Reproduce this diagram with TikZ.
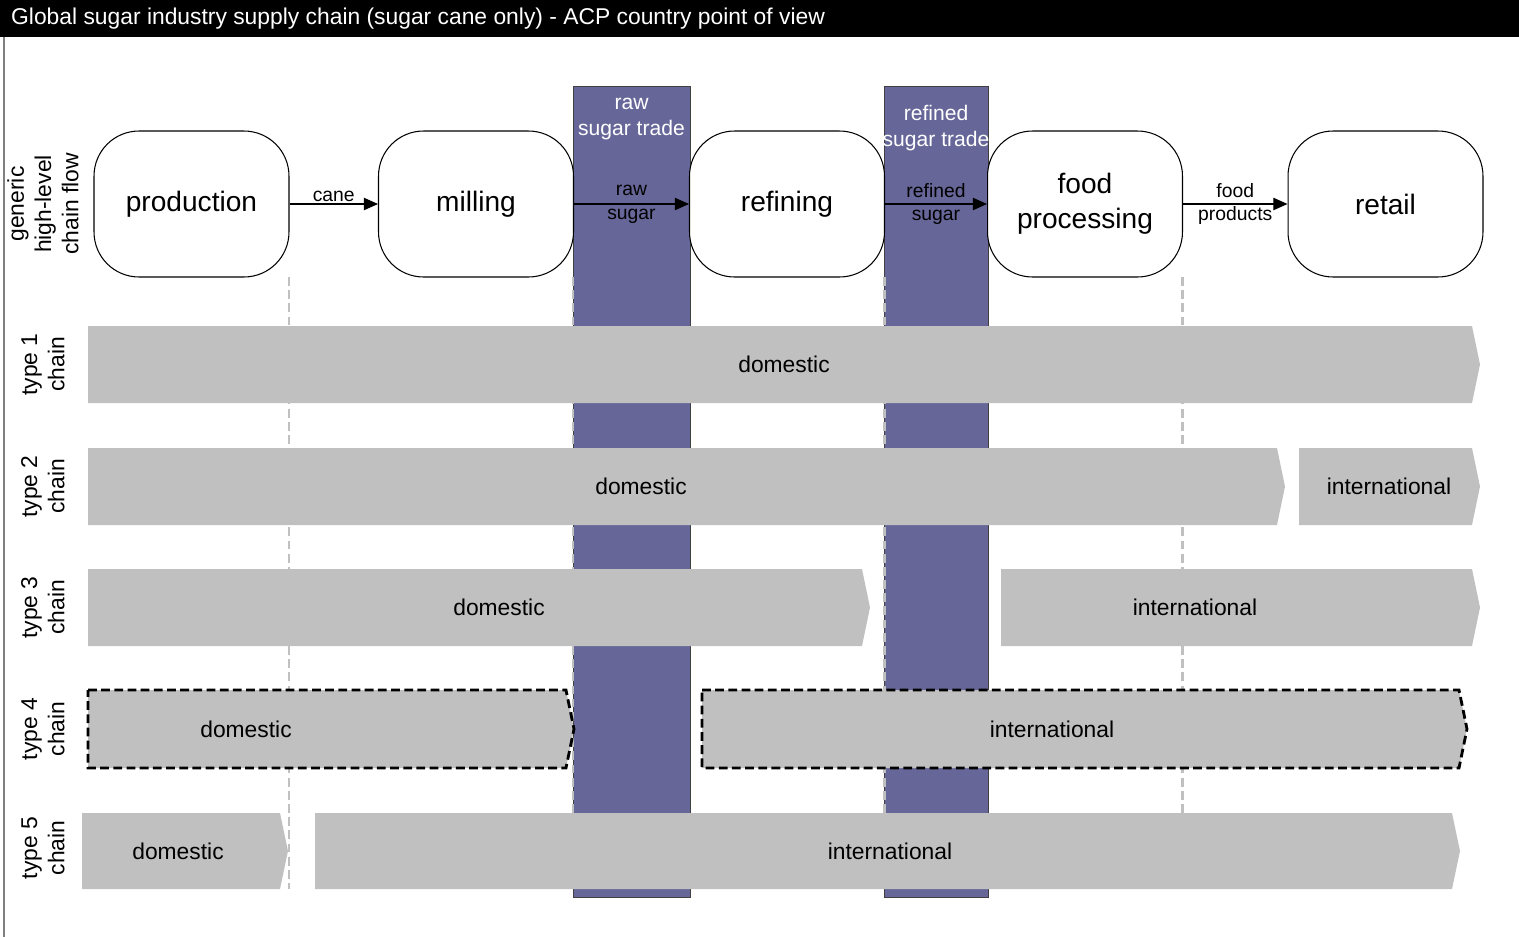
\documentclass[tikz,border=0pt]{standalone}
\usepackage{fontspec}
\setmainfont{Liberation Sans}
\usetikzlibrary{arrows.meta}

\definecolor{tradeblue}{RGB}{102,102,153}
\definecolor{bargray}{RGB}{192,192,192}

\tikzset{
  stage/.style={draw=black, fill=white, rounded corners=0.9cm, minimum width=3.9cm,
    minimum height=2.92cm, align=center, line width=0.6pt, font=\fontsize{16}{19.8}\selectfont},
  flow/.style={-{Triangle[length=8pt,width=7pt]}, line width=0.6pt},
  flowlabel/.style={align=center, inner sep=1pt, font=\fontsize{11}{13.6}\selectfont},
  trade/.style={fill=tradeblue, draw=black!75, line width=0.5pt},
  tradelabel/.style={text=white, align=center, font=\fontsize{12}{14.7}\selectfont},
  guide/.style={draw=bargray, line width=1.7pt, dash pattern=on 5pt off 2.5pt},
  chainbar/.style={fill=bargray},
  chainbox/.style={fill=bargray, draw=black, line width=1.6pt, dash pattern=on 5pt off 2.5pt},
  bartext/.style={font=\fontsize{13}{15}\selectfont},
  rowlabel/.style={rotate=90, align=center, font=\fontsize{13}{15.5}\selectfont},
}

\begin{document}
\begin{tikzpicture}[x=0.02cm, y=-0.02cm]
\useasboundingbox (0,0) rectangle (1519,937);

% title bar and frame
\fill[black] (0,0) rectangle (1519,37);
\node[anchor=west, text=white, font=\fontsize{13}{15}\selectfont] (title) at (5,18.5)
  {Global sugar industry supply chain (sugar cane only) - ACP country point of view};
\draw[black!50, line width=0.8pt] (4,37) -- (4,937);

% trade columns
\draw[trade] (573,86) rectangle (690,897);
\draw[trade] (884,86) rectangle (988,897);
\node[tradelabel] (rawtrade) at (631.5,119) {raw\\sugar trade};
\node[tradelabel] (reftrade) at (936,128) {refined\\sugar trade};

% guide lines
\draw[guide] (289,277) -- (289,889);
\draw[guide] (573,277) -- (573,889);
\draw[guide] (884,277) -- (884,889);
\draw[guide] (1182,277) -- (1182,889);

% generic chain flow
\node[stage] (prod) at (191.5,204) {production};
\node[stage] (mill) at (476,204) {milling};
\node[stage] (refin) at (787,204) {refining};
\node[stage] (foodp) at (1085,204) {food\\processing};
\node[stage] (retail) at (1385.5,204) {retail};

\draw[flow] (prod) -- (mill) node[flowlabel, midway, above] {cane};
\draw[flow] (mill) -- (refin) node[flowlabel, midway] {raw\\sugar};
\draw[flow] (refin) -- (foodp) node[flowlabel, midway] {refined\\sugar};
\draw[flow] (foodp) -- (retail) node[flowlabel, midway] {food\\products};

% row labels
\node[rowlabel] (lgen) at (43,204) {generic\\high-level\\chain flow};
\node[rowlabel] (lt1) at (43,364.5) {type 1\\chain};
\node[rowlabel] (lt2) at (43,486.5) {type 2\\chain};
\node[rowlabel] (lt3) at (43,607.5) {type 3\\chain};
\node[rowlabel] (lt4) at (43,729) {type 4\\chain};
\node[rowlabel] (lt5) at (43,848) {type 5\\chain};

% type 1
\fill[chainbar] (88,326) -- (1472,326) -- (1480,364.5) -- (1472,403) -- (88,403) -- cycle;
\node[bartext] (d1) at (784,364.5) {domestic};

% type 2
\fill[chainbar] (88,448) -- (1277,448) -- (1285,486.5) -- (1277,525) -- (88,525) -- cycle;
\fill[chainbar] (1299,448) -- (1472,448) -- (1480,486.5) -- (1472,525) -- (1299,525) -- cycle;
\node[bartext] (d2) at (641,486.5) {domestic};
\node[bartext] (i2) at (1389,486.5) {international};

% type 3
\fill[chainbar] (88,569) -- (862,569) -- (870,607.5) -- (862,646) -- (88,646) -- cycle;
\fill[chainbar] (1001,569) -- (1472,569) -- (1480,607.5) -- (1472,646) -- (1001,646) -- cycle;
\node[bartext] (d3) at (499,607.5) {domestic};
\node[bartext] (i3) at (1195,607.5) {international};

% type 4
\draw[chainbox] (88,690) -- (566,690) -- (574,729) -- (566,768) -- (88,768) -- cycle;
\draw[chainbox] (702,690) -- (1459,690) -- (1467,729) -- (1459,768) -- (702,768) -- cycle;
\node[bartext] (d4) at (246,729) {domestic};
\node[bartext] (i4) at (1052,729) {international};

% type 5
\fill[chainbar] (82,813) -- (280,813) -- (288,851) -- (280,889) -- (82,889) -- cycle;
\fill[chainbar] (315,813) -- (1452,813) -- (1460,851) -- (1452,889) -- (315,889) -- cycle;
\node[bartext] (d5) at (178,851) {domestic};
\node[bartext] (i5) at (890,851) {international};

\end{tikzpicture}
\end{document}
